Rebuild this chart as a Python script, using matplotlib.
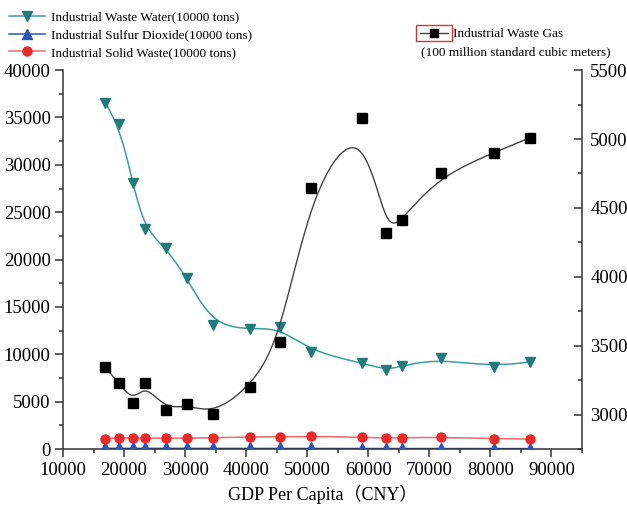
import numpy as np
import matplotlib
matplotlib.use("Agg")
import matplotlib.pyplot as plt
from matplotlib.patches import Rectangle
from matplotlib.ticker import MultipleLocator

plt.rcParams["font.family"] = ["Liberation Serif", "Noto Sans CJK SC"]

# GDP per capita (CNY) and the four indicators
gdp = [16900, 19200, 21400, 23400, 26900, 30300, 34500, 40600,
       45500, 50700, 58900, 62900, 65500, 72000, 80600, 86500]
waste_water = [36550, 34270, 28100, 23220, 21180, 18080, 13090, 12630,
               12840, 10270, 9110, 8340, 8760, 9640, 8620, 9210]
sulfur_dioxide = [78, 82, 80, 76, 74, 72, 70, 68,
                  66, 64, 60, 58, 57, 55, 52, 50]
solid_waste = [1100, 1200, 1150, 1150, 1150, 1150, 1200, 1300,
               1300, 1350, 1250, 1150, 1200, 1250, 1100, 1050]
waste_gas = [3343, 3227, 3081, 3227, 3033, 3077, 3004, 3198,
             3529, 4644, 5149, 4320, 4412, 4755, 4900, 5009]


def bspline(xs, ys, degree=3, num=500):
    """Clamped uniform B-spline using the points as control points."""
    pts = np.column_stack([xs, ys]).astype(float)
    n = len(pts)
    k = degree
    knots = np.concatenate([np.zeros(k), np.arange(n - k + 1), np.full(k, n - k)]).astype(float)
    t = np.linspace(0, knots[-1] - 1e-9, num)
    N = np.array([(knots[i] <= t) & (t < knots[i + 1])
                  for i in range(len(knots) - 1)], dtype=float)
    for p in range(1, k + 1):
        new = np.zeros((len(knots) - 1 - p, len(t)))
        for i in range(len(knots) - 1 - p):
            d1 = knots[i + p] - knots[i]
            d2 = knots[i + p + 1] - knots[i + 1]
            a = (t - knots[i]) / d1 * N[i] if d1 > 0 else 0.0
            b = (knots[i + p + 1] - t) / d2 * N[i + 1] if d2 > 0 else 0.0
            new[i] = a + b
        N = new
    curve = N.T @ pts
    curve = np.vstack([curve, pts[-1]])
    return curve[:, 0], curve[:, 1]


fig = plt.figure(figsize=(6.27, 5.08), dpi=100)
ax = fig.add_axes([0.1005, 0.116, 0.8275, 0.746])
ax2 = ax.twinx()

teal_line, teal_mark = "#3a9e9b", "#1f7c7b"
blue = "#2a55b8"
red_line, red_mark = "#f26868", "#ee2828"

cx, cy = bspline(gdp, waste_water)
ax.plot(cx, cy, color=teal_line, lw=1.1, zorder=2)
ax.plot(gdp, waste_water, ls="none", marker="v", ms=7.5, color=teal_mark, zorder=3)

cx, cy = bspline(gdp, sulfur_dioxide)
ax.plot(cx, cy, color=blue, lw=1.1, zorder=2)
ax.plot(gdp, sulfur_dioxide, ls="none", marker="^", ms=8.5, color=blue, zorder=3)

cx, cy = bspline(gdp, solid_waste)
ax.plot(cx, cy, color=red_line, lw=1.1, zorder=2)
ax.plot(gdp, solid_waste, ls="none", marker="o", ms=6.5, color=red_mark, zorder=3)

cx, cy = bspline(gdp, waste_gas)
ax2.plot(cx, cy, color="#444444", lw=1.0, zorder=2)
ax2.plot(gdp, waste_gas, ls="none", marker="s", ms=6.5, color="black", zorder=3)

ax.set_xlim(10000, 95000)
ax.set_ylim(0, 40000)
ax2.set_ylim(2750, 5500)

ax.set_xticks(range(10000, 90001, 10000))
ax.xaxis.set_minor_locator(MultipleLocator(5000))
ax.yaxis.set_major_locator(MultipleLocator(5000))
ax.yaxis.set_minor_locator(MultipleLocator(2500))
ax2.yaxis.set_major_locator(MultipleLocator(500))
ax2.yaxis.set_minor_locator(MultipleLocator(250))

for a in (ax, ax2):
    a.spines["top"].set_visible(False)
    for s in a.spines.values():
        s.set_linewidth(1.1)
        s.set_color("#333333")
ax.spines["right"].set_visible(False)
ax2.spines["left"].set_visible(False)
ax2.spines["bottom"].set_visible(False)

ax.tick_params(axis="both", which="major", direction="out", length=6, width=1.1,
               color="#333333", labelsize=13.5, pad=3)
ax.tick_params(axis="both", which="minor", direction="out", length=3, width=1.1,
               color="#333333")
ax2.tick_params(axis="y", which="major", direction="in", length=6, width=1.1,
                color="#333333", labelsize=13.5, pad=6)
ax2.tick_params(axis="y", which="minor", direction="in", length=3, width=1.1,
                color="#333333")

ax.set_xlabel("GDP Per Capita（CNY）", fontsize=13, labelpad=4.5)

# legends
h_water, = ax.plot([], [], color=teal_line, marker="v", ms=7.5, mfc=teal_mark, mec=teal_mark, lw=1.1)
h_so2, = ax.plot([], [], color=blue, marker="^", ms=7.5, lw=1.1)
h_solid, = ax.plot([], [], color=red_line, marker="o", ms=6.5, mfc=red_mark, mec=red_mark, lw=1.1)
ax.legend([h_water, h_so2, h_solid],
          ["Industrial Waste Water(10000 tons)",
           "Industrial Sulfur Dioxide(10000 tons)",
           "Industrial Solid Waste(10000 tons)"],
          loc="upper left", bbox_to_anchor=(0.0, 1 - 2 / 508), bbox_transform=fig.transFigure,
          frameon=False, fontsize=9.5, handlelength=2.7, handletextpad=0.5,
          labelspacing=0.42, borderaxespad=0.4, borderpad=0.3)

h_gas, = ax2.plot([], [], color="#444444", marker="s", ms=6, mfc="black", mec="black", lw=1.0)
leg2 = ax2.legend([h_gas], ["Industrial Waste Gas"], loc="upper left",
                  bbox_to_anchor=(416 / 627, 1 - 24 / 508), bbox_transform=fig.transFigure,
                  frameon=False, fontsize=9.5, handlelength=2.1, handletextpad=0.4,
                  borderaxespad=0.0, borderpad=0.3)
fig.text(516 / 627, 1 - 52 / 508, "(100 million standard cubic meters)",
         fontsize=9.5, ha="center", va="center")

fig.canvas.draw()
hb = leg2.legend_handles[0].get_window_extent(fig.canvas.get_renderer())
inv = fig.transFigure.inverted()
(x0, y0), (x1, y1) = inv.transform([[hb.x0, (hb.y0 + hb.y1) / 2 - 8],
                                    [hb.x1, (hb.y0 + hb.y1) / 2 + 8]])
fig.add_artist(Rectangle((x0, y0), x1 - x0, y1 - y0, transform=fig.transFigure,
                         fill=False, edgecolor="#e03030", lw=1.0))

fig.savefig("out.png", dpi=100)
